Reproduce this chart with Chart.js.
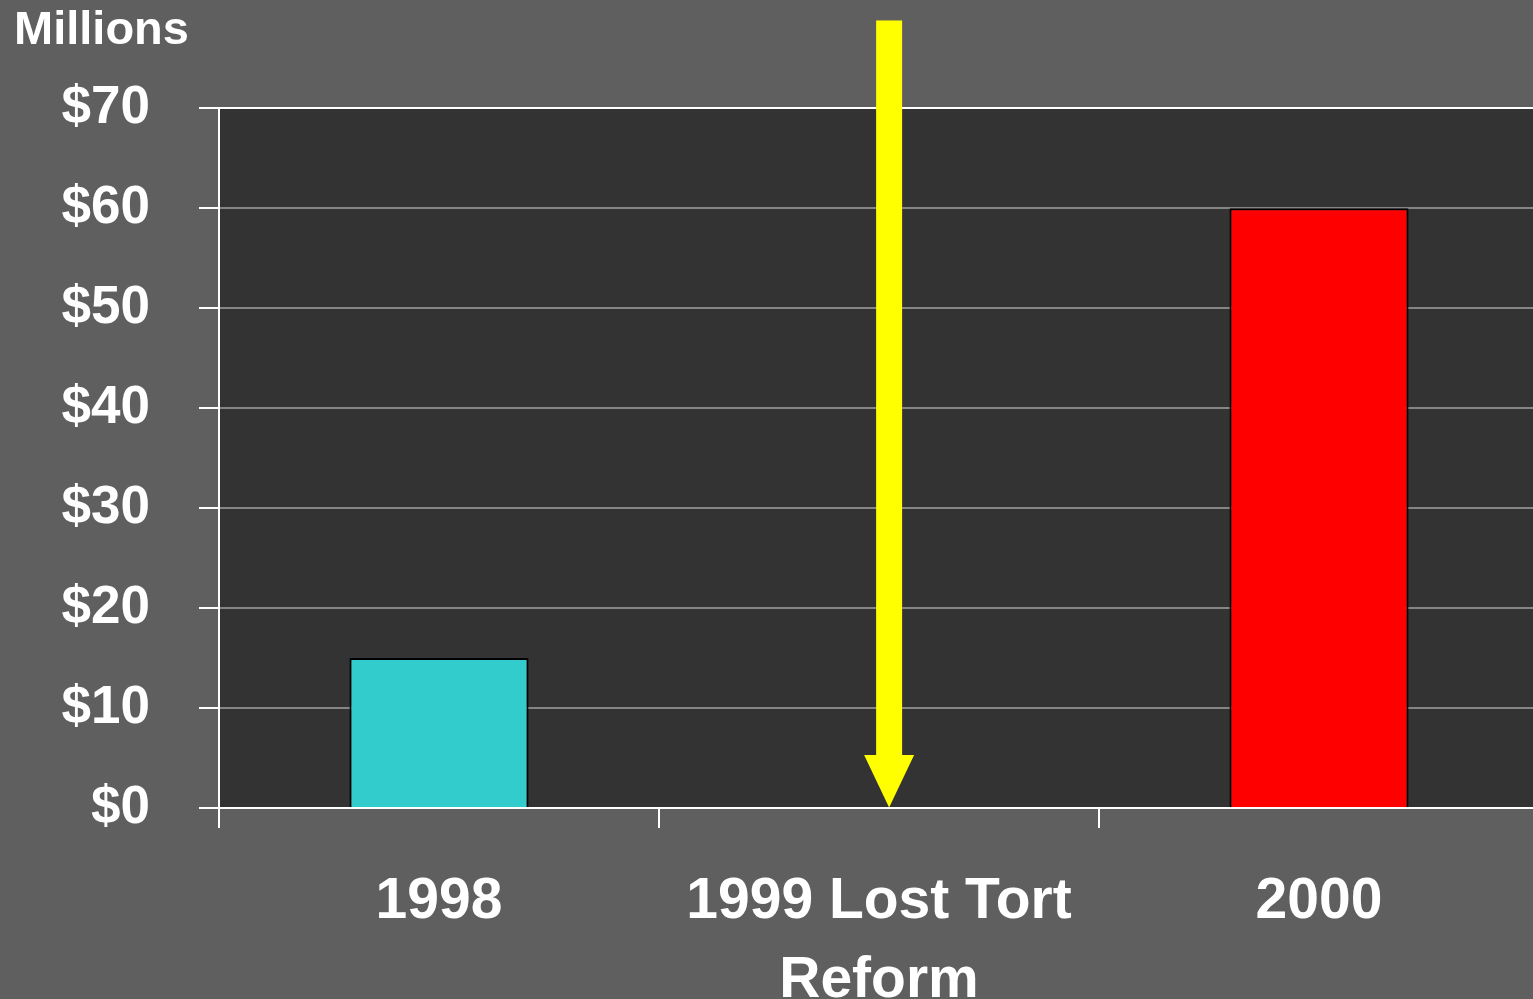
<!DOCTYPE html>
<html>
<head>
<meta charset="utf-8">
<script src="https://cdn.jsdelivr.net/npm/chart.js@4"></script>
<style>
  html, body { margin: 0; padding: 0; background: #5f5f5f; }
  #wrap { width: 1533px; height: 999px; overflow: hidden; }
  #inner { width: 1539px; height: 999px; position: relative; }
</style>
</head>
<body>
<div id="wrap"><div id="inner"><canvas id="barchart"></canvas></div></div>
<script>
// data
const categories = ['1998', ['1999 Lost Tort', 'Reform'], '2000'];
const amounts = [15, null, 60];
const barColors = ['#33cccc', '#33cccc', '#ff0000'];
const yTicks = [0, 10, 20, 30, 40, 50, 60, 70];

// yellow arrow, in axis units (category index / millions)
const arrowCategory = 1.023;
const arrowTop = 78.8;
const arrowHeadBase = 5.3;
const arrowTip = 0.05;

const plotBg = {
  id: 'plotBg',
  beforeDraw(chart) {
    const a = chart.chartArea;
    const c = chart.ctx;
    c.save();
    c.fillStyle = '#333333';
    c.fillRect(a.left, a.top, a.right - a.left, a.bottom - a.top);
    c.restore();
  }
};

const arrow = {
  id: 'arrow',
  afterDraw(chart) {
    const x = chart.scales.x, y = chart.scales.y;
    const c = chart.ctx;
    const cx = x.getPixelForValue(arrowCategory);
    const top = y.getPixelForValue(arrowTop);
    const base = y.getPixelForValue(arrowHeadBase);
    const tip = y.getPixelForValue(arrowTip);
    c.save();
    c.fillStyle = '#ffff00';
    c.fillRect(cx - 13, top, 26, base - top);
    c.beginPath();
    c.moveTo(cx - 25, base);
    c.lineTo(cx + 25, base);
    c.lineTo(cx, tip);
    c.closePath();
    c.fill();
    c.restore();
  }
};

const ctx = document.getElementById('barchart').getContext('2d');

new Chart(ctx, {
  type: 'bar',
  data: {
    labels: categories,
    datasets: [{
      data: amounts,
      backgroundColor: barColors,
      borderColor: '#000000',
      borderWidth: 2,
      borderSkipped: 'bottom',
      barPercentage: 1,
      categoryPercentage: 0.407
    }]
  },
  options: {
    responsive: true,
    maintainAspectRatio: false,
    animation: false,
    layout: { padding: { left: 14, right: 0, top: 0, bottom: 0 } },
    plugins: {
      legend: { display: false },
      tooltip: { enabled: false },
      title: {
        display: true,
        text: 'Millions',
        align: 'start',
        color: '#ffffff',
        font: { family: 'Liberation Sans, Arial, sans-serif', size: 47, weight: 'bold' },
        padding: { top: 3, bottom: 49 }
      }
    },
    scales: {
      x: {
        offset: true,
        afterFit(s) { s.height = 191; },
        grid: {
          offset: true,
          drawOnChartArea: false,
          color: '#ffffff',
          lineWidth: 2,
          tickLength: 20
        },
        border: { display: true, color: '#ffffff', width: 2 },
        ticks: {
          color: '#ffffff',
          padding: 34,
          maxRotation: 0,
          font: { family: 'Liberation Sans, Arial, sans-serif', size: 57, weight: 'bold', lineHeight: 1.4 }
        }
      },
      y: {
        min: 0,
        max: 70,
        afterFit(s) { s.width = 205; },
        afterBuildTicks(s) { s.ticks = yTicks.map(v => ({ value: v })); },
        grid: {
          color: c => (c.tick && (c.tick.value === 0 || c.tick.value === 70)) ? '#ffffff' : '#858585',
          tickColor: '#ffffff',
          lineWidth: 2,
          tickLength: 20
        },
        border: { display: true, color: '#ffffff', width: 2 },
        ticks: {
          color: '#ffffff',
          padding: 49,
          font: { family: 'Liberation Sans, Arial, sans-serif', size: 53, weight: 'bold' },
          callback: v => '$' + v
        }
      }
    }
  },
  plugins: [plotBg, arrow]
});
</script>
</body>
</html>
